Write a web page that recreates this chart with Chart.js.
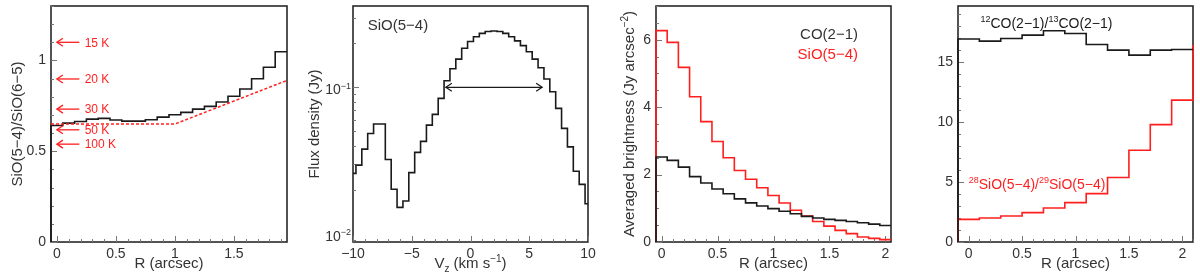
<!DOCTYPE html>
<html>
<head>
<meta charset="utf-8">
<script src="https://cdn.jsdelivr.net/npm/chart.js@4.4.0/dist/chart.umd.min.js"></script>
<style>
  body { margin: 0; background: #fff; }
  #wrap { position: relative; width: 1200px; height: 277px; overflow: hidden; }
  canvas { position: absolute; top: 0; }
</style>
</head>
<body>
<div id="wrap">
  <canvas id="c1" width="300" height="277" style="left:0px"></canvas>
  <canvas id="c2" width="300" height="277" style="left:300px"></canvas>
  <canvas id="c3" width="300" height="277" style="left:600px"></canvas>
  <canvas id="c4" width="300" height="277" style="left:900px"></canvas>
</div>
<script>
'use strict';

// ******* DATA *******

// panel 1 : SiO(5-4)/SiO(6-5) ratio vs R
const ratioR = [0, 0.1, 0.2, 0.3, 0.4, 0.5, 0.6, 0.7, 0.8, 0.9, 1.0, 1.1, 1.2, 1.3, 1.4, 1.5, 1.6, 1.7, 1.8, 1.9];
const ratioSiO = [0.642, 0.655, 0.664, 0.677, 0.681, 0.672, 0.666, 0.666, 0.673, 0.688, 0.701, 0.714, 0.732, 0.747, 0.771, 0.803, 0.843, 0.899, 0.963, 1.048];
const modelR = [-0.05, 1.0, 1.95];
const modelRatio = [0.65, 0.65, 0.89];
const tempLevels = [1.10, 0.898, 0.732, 0.618, 0.539];
const tempLabels = ['15 K', '20 K', '30 K', '50 K', '100 K'];
const ratioXTicks = [0, 0.5, 1, 1.5];
const ratioYTicks = [0, 0.5, 1];

// panel 2 : SiO(5-4) spectrum
const specV = [-10, -9.5, -9, -8.5, -8, -7.5, -7, -6.5, -6, -5.5, -5, -4.5, -4, -3.5, -3, -2.5, -2, -1.5, -1, -0.5,
  0, 0.5, 1, 1.5, 2, 2.5, 3, 3.5, 4, 4.5, 5, 5.5, 6, 6.5, 7, 7.5, 8, 8.5, 9, 9.5, 10];
const specFlux = [0.0258, 0.0294, 0.0378, 0.0484, 0.0561, 0.0561, 0.0321, 0.0201, 0.0151, 0.0167, 0.0261, 0.0359, 0.0427, 0.0552, 0.0653, 0.0841, 0.111, 0.134, 0.156, 0.185,
  0.206, 0.222, 0.234, 0.241, 0.243, 0.241, 0.234, 0.222, 0.208, 0.193, 0.175, 0.156, 0.136, 0.114, 0.0934, 0.0718, 0.0524, 0.0392, 0.0267, 0.0217, 0.016];
const fwhmV = [-2.1, 6.1];
const fwhmFlux = 0.1;
const specXTicks = [-10, -5, 0, 5, 10];
const specYTicks = [0.01, 0.1];
const specYLabels = ['\u22122', '\u22121'];

// panel 3 : averaged brightness profiles
const profR = [0, 0.1, 0.2, 0.3, 0.4, 0.5, 0.6, 0.7, 0.8, 0.9, 1.0, 1.1, 1.2, 1.3, 1.4, 1.5, 1.6, 1.7, 1.8, 1.9, 2.0];
const profCO = [2.52, 2.42, 2.22, 1.94, 1.75, 1.57, 1.43, 1.28, 1.16, 1.07, 0.99, 0.91, 0.84, 0.76, 0.71, 0.67, 0.64, 0.61, 0.57, 0.53, 0.49];
const profSiO = [6.27, 5.92, 5.18, 4.31, 3.57, 2.98, 2.50, 2.12, 1.86, 1.61, 1.38, 1.155, 0.94, 0.77, 0.61, 0.47, 0.345, 0.247, 0.148, 0.109, 0.07];
const profXTicks = [0, 0.5, 1, 1.5, 2];
const profYTicks = [0, 2, 4, 6];

// panel 4 : isotopic ratios
const isoR = [0, 0.2, 0.4, 0.6, 0.8, 1.0, 1.2, 1.4, 1.6, 1.8, 2.0];
const isoCO = [16.94, 16.77, 16.99, 17.27, 17.63, 17.41, 16.49, 16.02, 15.6, 16.02, 16.07];
const isoRSi = [0, 0.2, 0.4, 0.6, 0.8, 1.0, 1.2, 1.4, 1.6, 1.8, 2.0, 2.2];
const isoSiO = [1.89, 2.0, 2.17, 2.45, 2.84, 3.29, 4.04, 5.38, 7.66, 9.8, 11.84, 16.38];
const isoXTicks = [0, 0.5, 1, 1.5, 2];
const isoYTicks = [0, 5, 10, 15];

// ******* STYLE *******
const FONT = "'Liberation Sans', Arial, sans-serif";
const TEXT = '#333';
const BLACK = '#1a1a1a';
const RED = '#ff1f1f';
Chart.defaults.font.family = FONT;

// ****** HELPERS ******
function fmt(v) {
  return String(v).replace('-', '\u2212');
}

function steps(a, b, d) {
  let out = [];
  for (let v = a; v <= b + 1e-9; v += d) {
    out.push(Math.round(v * 1000) / 1000);
  }
  return out;
}

function histPoints(centers, values, fromZero) {
  let w = centers[1] - centers[0];
  let pts = [];
  if (fromZero) pts.push({ x: centers[0] - w / 2, y: 0 });
  for (let i = 0; i < centers.length; i++) {
    pts.push({ x: centers[i] - w / 2, y: values[i] });
    pts.push({ x: centers[i] + w / 2, y: values[i] });
  }
  return pts;
}

function linePoints(xs, ys) {
  return xs.map((x, i) => ({ x: x, y: ys[i] }));
}

// parts: [[text], [text, 'sup'], [text, 'sub']]
function drawRich(c, parts, x, y, size, color, align, rotate) {
  c.save();
  c.translate(x, y);
  if (rotate) c.rotate(-Math.PI / 2);
  c.fillStyle = color;
  c.textBaseline = 'alphabetic';
  c.textAlign = 'left';
  let fontOf = p => (p[1] ? Math.round(size * 0.65) : size) + 'px ' + FONT;
  let widths = parts.map(p => { c.font = fontOf(p); return c.measureText(p[0]).width; });
  let total = widths.reduce((a, b) => a + b, 0);
  let cx = align === 'center' ? -total / 2 : (align === 'right' ? -total : 0);
  let base = size * 0.36;
  parts.forEach((p, i) => {
    c.font = fontOf(p);
    let dy = p[1] === 'sup' ? -size * 0.42 : (p[1] === 'sub' ? size * 0.25 : 0);
    c.fillText(p[0], cx, base + dy);
    cx += widths[i];
  });
  c.restore();
}

function arrowHead(c, tipX, tipY, dir) {
  c.beginPath();
  c.moveTo(tipX - dir * 6, tipY - 4);
  c.lineTo(tipX, tipY);
  c.lineTo(tipX - dir * 6, tipY + 4);
  c.stroke();
}

// ROOT-like frame, inward ticks, titles and extra marks
function rootPlugin(opt) {
  return {
    id: 'rootStyle',
    beforeDatasetsDraw(chart) {
      let c = chart.ctx;
      let a = chart.chartArea;
      let xs = chart.scales.x;
      let ys = chart.scales.y;
      c.save();
      c.strokeStyle = BLACK;
      c.lineWidth = 1.5;
      c.strokeRect(a.left, a.top, a.right - a.left, a.bottom - a.top);
      c.strokeStyle = '#777';
      c.lineWidth = 1;
      c.beginPath();
      opt.xMinor.forEach(v => {
        let px = Math.round(xs.getPixelForValue(v)) + 0.5;
        let len = opt.xTicks.includes(v) ? 6 : 3;
        c.moveTo(px, a.bottom);
        c.lineTo(px, a.bottom - len);
      });
      opt.yMinor.forEach(v => {
        let py = Math.round(ys.getPixelForValue(v)) + 0.5;
        let len = opt.yTicks.includes(v) ? 6 : 3;
        c.moveTo(a.left, py);
        c.lineTo(a.left + len, py);
      });
      c.stroke();
      c.restore();
    },
    afterDatasetsDraw(chart) {
      let c = chart.ctx;
      let a = chart.chartArea;
      drawRich(c, opt.xTitle, (a.left + a.right) / 2, 263, 15, TEXT, 'center', false);
      if (opt.yTitle) {
        drawRich(c, opt.yTitle, opt.yTitleX, (a.top + a.bottom) / 2, 15, TEXT, 'center', true);
      }
      if (opt.extra) opt.extra(chart);
    }
  };
}

function makeChart(id, opt) {
  return new Chart(document.getElementById(id), {
    type: 'line',
    data: { datasets: opt.datasets },
    options: {
      responsive: false,
      animation: false,
      layout: { padding: { top: 6, right: opt.padRight, left: 0, bottom: 0 } },
      plugins: { legend: { display: false }, tooltip: { enabled: false } },
      elements: { point: { radius: 0 }, line: { tension: 0 } },
      scales: {
        x: {
          type: 'linear',
          min: opt.xMin,
          max: opt.xMax,
          grid: { display: false, drawTicks: false, tickLength: 0 },
          border: { display: false },
          ticks: { font: { size: 14 }, color: TEXT, padding: 4, maxRotation: 0, autoSkip: false, callback: v => fmt(v) },
          afterBuildTicks: s => { s.ticks = opt.xTicks.map(v => ({ value: v })); },
          afterFit: s => { s.height = 35; s.paddingLeft = 0; s.paddingRight = 0; }
        },
        y: {
          type: opt.yType || 'linear',
          min: opt.yMin,
          max: opt.yMax,
          grid: { display: false, drawTicks: false, tickLength: 0 },
          border: { display: false },
          ticks: { font: { size: 14 }, color: TEXT, padding: 5, autoSkip: false, callback: opt.yLabel || (v => fmt(v)) },
          afterBuildTicks: s => { s.ticks = opt.yTicks.map(v => ({ value: v })); },
          afterFit: s => { s.width = opt.left; s.paddingTop = 0; s.paddingBottom = 0; }
        }
      }
    },
    plugins: [rootPlugin(opt)]
  });
}

function histSet(points, color, clip) {
  return { data: points, borderColor: color, borderWidth: 1.6, pointRadius: 0, fill: false, clip: clip };
}

const edgeClip = { left: 1, right: 1, top: 0, bottom: 0 };

// ****** PANEL 1 ******
makeChart('c1', {
  left: 51, padRight: 13,
  xMin: -0.05, xMax: 1.95, yMin: 0, yMax: 1.3,
  xTicks: ratioXTicks, yTicks: ratioYTicks,
  xMinor: steps(0, 1.9, 0.1), yMinor: steps(0, 1.3, 0.1),
  xTitle: [['R (arcsec)']],
  yTitle: [['SiO(5\u22124)/SiO(6\u22125)']], yTitleX: 17,
  datasets: [
    { data: linePoints(modelR, modelRatio), borderColor: RED, borderWidth: 1.5, borderDash: [3, 2], pointRadius: 0, fill: false },
    histSet(histPoints(ratioR, ratioSiO, true), BLACK, edgeClip)
  ],
  extra: chart => {
    let c = chart.ctx;
    let xs = chart.scales.x;
    let ys = chart.scales.y;
    c.save();
    c.strokeStyle = RED;
    c.lineWidth = 1.3;
    tempLevels.forEach((lv, i) => {
      let py = ys.getPixelForValue(lv);
      let tip = xs.getPixelForValue(0);
      let tail = xs.getPixelForValue(0.19);
      c.beginPath();
      c.moveTo(tail, py);
      c.lineTo(tip, py);
      c.stroke();
      arrowHead(c, tip, py, -1);
      drawRich(c, [[tempLabels[i]]], xs.getPixelForValue(0.235), py, 12, RED, 'left', false);
    });
    c.restore();
  }
});

// ****** PANEL 2 ******
makeChart('c2', {
  left: 53, padRight: 12,
  xMin: -10, xMax: 10, yType: 'logarithmic', yMin: 0.00876, yMax: 0.36,
  xTicks: specXTicks, yTicks: specYTicks,
  xMinor: steps(-10, 10, 1),
  yMinor: [0.009, 0.02, 0.03, 0.04, 0.05, 0.06, 0.07, 0.08, 0.09, 0.1, 0.2, 0.3],
  yLabel: () => '',
  xTitle: [['V'], ['z', 'sub'], [' (km s'], ['\u22121', 'sup'], [')']],
  yTitle: [['Flux density (Jy)']], yTitleX: 14,
  datasets: [histSet(histPoints(specV, specFlux, false), BLACK, 0)],
  extra: chart => {
    let c = chart.ctx;
    let xs = chart.scales.x;
    let ys = chart.scales.y;
    let a = chart.chartArea;
    specYTicks.forEach((v, i) => {
      drawRich(c, [['10'], [specYLabels[i], 'sup']], a.left - 2, ys.getPixelForValue(v) + 2, 14, TEXT, 'right', false);
    });
    let py = ys.getPixelForValue(fwhmFlux);
    let x1 = xs.getPixelForValue(fwhmV[0]);
    let x2 = xs.getPixelForValue(fwhmV[1]);
    c.save();
    c.strokeStyle = BLACK;
    c.lineWidth = 1.2;
    c.beginPath();
    c.moveTo(x1, py);
    c.lineTo(x2, py);
    c.stroke();
    arrowHead(c, x1, py, -1);
    arrowHead(c, x2, py, 1);
    c.restore();
    drawRich(c, [['SiO(5\u22124)']], xs.getPixelForValue(-8.75), ys.getPixelForValue(0.267), 15, TEXT, 'left', false);
  }
});

// ****** PANEL 3 ******
makeChart('c3', {
  left: 56, padRight: 9,
  xMin: -0.05, xMax: 2.05, yMin: 0, yMax: 7,
  xTicks: profXTicks, yTicks: profYTicks,
  xMinor: steps(0, 2, 0.1), yMinor: steps(0, 7, 0.5),
  xTitle: [['R (arcsec)']],
  yTitle: [['Averaged brightness (Jy arcsec'], ['\u22122', 'sup'], [')']], yTitleX: 29,
  datasets: [
    histSet(histPoints(profR, profCO, true), BLACK, edgeClip),
    histSet(histPoints(profR, profSiO, true), RED, edgeClip)
  ],
  extra: chart => {
    let c = chart.ctx;
    let xs = chart.scales.x;
    let ys = chart.scales.y;
    drawRich(c, [['CO(2\u22121)']], xs.getPixelForValue(1.755), ys.getPixelForValue(6.17), 15, TEXT, 'right', false);
    drawRich(c, [['SiO(5\u22124)']], xs.getPixelForValue(1.755), ys.getPixelForValue(5.6), 15, RED, 'right', false);
  }
});

// ****** PANEL 4 ******
makeChart('c4', {
  left: 58, padRight: 7,
  xMin: -0.1, xMax: 2.1, yMin: 0, yMax: 19.7,
  xTicks: isoXTicks, yTicks: isoYTicks,
  xMinor: steps(0, 2.1, 0.1), yMinor: steps(0, 19, 1),
  xTitle: [['R (arcsec)']],
  datasets: [
    histSet(histPoints(isoR, isoCO, true), BLACK, edgeClip),
    histSet(histPoints(isoRSi, isoSiO, true), RED, edgeClip)
  ],
  extra: chart => {
    let c = chart.ctx;
    let xs = chart.scales.x;
    let ys = chart.scales.y;
    drawRich(c, [['12', 'sup'], ['CO(2\u22121)/'], ['13', 'sup'], ['CO(2\u22121)']],
      xs.getPixelForValue(0.11), ys.getPixelForValue(18.27), 14, BLACK, 'left', false);
    drawRich(c, [['28', 'sup'], ['SiO(5\u22124)/'], ['29', 'sup'], ['SiO(5\u22124)']],
      xs.getPixelForValue(0.0), ys.getPixelForValue(4.85), 14, RED, 'left', false);
  }
});
</script>
</body>
</html>
